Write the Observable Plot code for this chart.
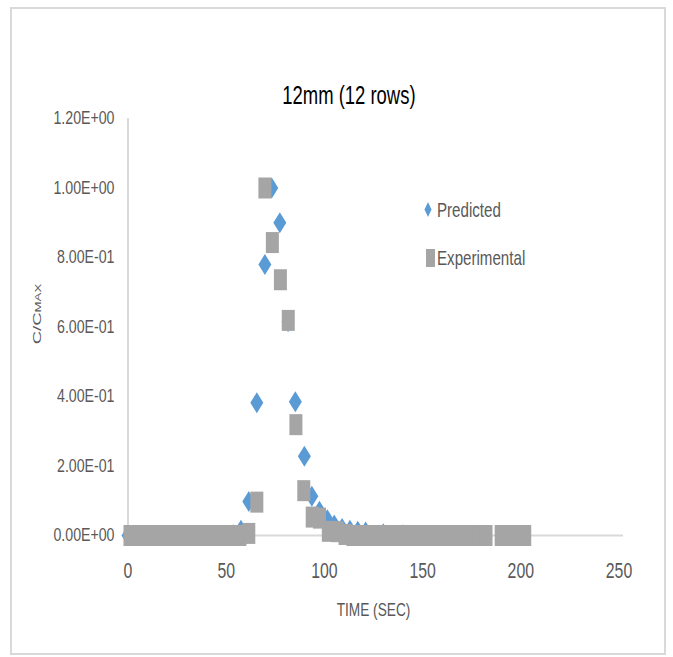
<!DOCTYPE html>
<html>
<head>
<meta charset="utf-8">
<script src="https://cdn.jsdelivr.net/npm/d3@7"></script>
<script src="https://cdn.jsdelivr.net/npm/@observablehq/plot@0.6"></script>
<style>
  html, body { margin: 0; padding: 0; background: #fff; }
  #wrap { position: relative; width: 673px; height: 657px; overflow: hidden; }
  #frame { position: absolute; left: 10px; top: 7px; width: 656px; height: 648px; border: 2px solid #d9d9d9; box-sizing: border-box; }
  #chart { position: absolute; left: 0; top: 0; }
  #title { position: absolute; left: 0; width: 697px; top: 80px; text-align: center; line-height: normal;
           font-family: "Liberation Sans", Arial, sans-serif; font-size: 26px; color: #000; }
  #title span { display: inline-block; transform: scaleX(0.71); }
  .legend { position: absolute; left: 423px; font-family: "Liberation Sans", Arial, sans-serif;
            font-size: 21px; color: #595959; display: flex; align-items: center; line-height: 24px; }
  .legend svg { display: block; }
  .legend span { display: inline-block; transform: scaleX(0.72); transform-origin: 0 50%; margin-left: 2px; }
</style>
</head>
<body>
<div id="wrap">
  <div id="frame"></div>
  <div id="chart"></div>
  <div id="title"><span>12mm (12 rows)</span></div>
  <div class="legend" id="leg1" style="top:198px"></div>
  <div class="legend" id="leg2" style="top:246px"></div>
</div>
<script>
// Predicted breakthrough curve, C/Cmax against time (s)
const predTime = [0, 4, 8, 12, 16, 20, 24, 28, 32, 36, 40, 44, 48, 53.5, 57.5, 61.5, 65.6, 69.7, 73.2, 77.3, 81.5, 85.2, 89.8, 93.6, 97.5, 101.5, 105, 109, 113, 117, 121, 130, 140, 150, 160, 170, 180, 190, 200];
const predValue = [0, 0, 0, 0, 0, 0, 0, 0, 0, 0, 0, 0, 0, 0.002, 0.015, 0.098, 0.382, 0.78, 1.0, 0.9, 0.615, 0.385, 0.228, 0.113, 0.07, 0.045, 0.03, 0.02, 0.015, 0.012, 0.01, 0.005, 0.002, 0, 0, 0, 0, 0, 0];

// Experimental breakthrough curve
const expTime = [1, 5, 9, 13, 17, 21, 25, 29, 33, 37, 41, 45, 49, 53, 57, 61.5, 65.6, 69.7, 73.5, 77.6, 81.6, 85.5, 89.5, 93.8, 97.5, 102, 106.5, 110.5, 114.5, 118.5, 122.5, 126.5, 130.5, 134.5, 138.5, 142.5, 146.5, 150.5, 154.5, 158.5, 162.5, 166.5, 170.5, 174.5, 178.5, 182.3, 190, 194, 198, 202];
const expValue = [0, 0, 0, 0, 0, 0, 0, 0, 0, 0, 0, 0, 0, 0, 0, 0.006, 0.096, 1.0, 0.843, 0.736, 0.619, 0.319, 0.129, 0.053, 0.05, 0.012, 0.011, 0.003, 0, 0, 0, 0, 0, 0, 0, 0, 0, 0, 0, 0, 0, 0, 0, 0, 0, 0, 0, 0, 0, 0];

const yTicks = [0, 0.2, 0.4, 0.6, 0.8, 1.0, 1.2];
const xTicks = [0, 50, 100, 150, 200, 250];

const predicted = predTime.map((t, i) => ({t, v: predValue[i]}));
const experimental = expTime.map((t, i) => ({t, v: expValue[i]}));

const blue = "#5b9bd5";
const gray = "#a5a5a5";

// Tall marker shapes used by the series
const tallDiamond = { draw(ctx) { ctx.moveTo(0, -10.5); ctx.lineTo(6.5, 0); ctx.lineTo(0, 10.5); ctx.lineTo(-6.5, 0); ctx.closePath(); } };
const tallSquare = { draw(ctx) { ctx.rect(-6.5, -10.5, 13, 21); } };

// Scientific tick labels such as 1.20E+00
function sci(d) {
  const [m, e] = d.toExponential(2).split("e");
  const n = +e;
  return m + "E" + (n < 0 ? "-" : "+") + String(Math.abs(n)).padStart(2, "0");
}

const font = "'Liberation Sans', Arial, sans-serif";

const chart = Plot.plot({
  width: 673,
  height: 657,
  marginLeft: 127.5,
  marginRight: 54.5,
  marginTop: 118,
  marginBottom: 122,
  style: { fontFamily: font, background: "transparent", overflow: "visible" },
  x: { domain: [0, 250] },
  y: { domain: [0, 1.2] },
  marks: [
    Plot.ruleX([0], { stroke: "#d9d9d9", strokeWidth: 2 }),
    Plot.ruleY([0], { stroke: "#d9d9d9", strokeWidth: 2, insetRight: -4.5 }),
    Plot.axisY({ ticks: yTicks, tickFormat: sci, tickSize: 0, tickPadding: 13.5, fontSize: 17.5, fill: "#595959", label: null }),
    Plot.axisX({ ticks: xTicks, tickFormat: d => String(d), tickSize: 0, tickPadding: 27, fontSize: 22, fill: "#595959", label: null, style: { letterSpacing: "3px" } }),
    Plot.text(["TIME (SEC)"], { frameAnchor: "bottom", lineAnchor: "middle", dy: 74, fontSize: 19, fill: "#595959" }),
    Plot.text(["C/Cmax"], { frameAnchor: "left", textAnchor: "middle", lineAnchor: "middle", dx: -91, dy: -13, rotate: -90, fontSize: 18.5, fill: "#595959", fontVariant: "small-caps" }),
    Plot.dot(predicted, { x: "t", y: "v", symbol: tallDiamond, fill: blue, r: 6 }),
    Plot.dot(experimental, { x: "t", y: "v", symbol: tallSquare, fill: gray, r: 6 })
  ]
});

// Narrow the lettering horizontally, as in the original figure
chart.querySelectorAll("text").forEach(t => {
  const tr = t.getAttribute("transform") || "";
  const isYTick = /E[+-]\d\d$/.test(t.textContent);
  const s = tr.includes("rotate") ? " scale(1,0.62)" : isYTick ? " scale(0.81,1)" : " scale(0.72,1)";
  t.setAttribute("transform", tr + s);
});
document.getElementById("chart").append(chart);

// Legend entries
const legItems = [
  { id: "leg1", label: "Predicted", color: blue, shape: "diamond" },
  { id: "leg2", label: "Experimental", color: gray, shape: "square" }
];
for (const it of legItems) {
  const el = document.getElementById(it.id);
  const sw = it.shape === "diamond"
    ? `<svg width="12" height="24"><path d="M5,4L8.5,11.5L5,19L1.5,11.5Z" fill="${it.color}"/></svg>`
    : `<svg width="12" height="24"><rect x="3" y="3" width="9" height="18" fill="${it.color}"/></svg>`;
  el.innerHTML = sw + `<span>${it.label}</span>`;
}
</script>
</body>
</html>
